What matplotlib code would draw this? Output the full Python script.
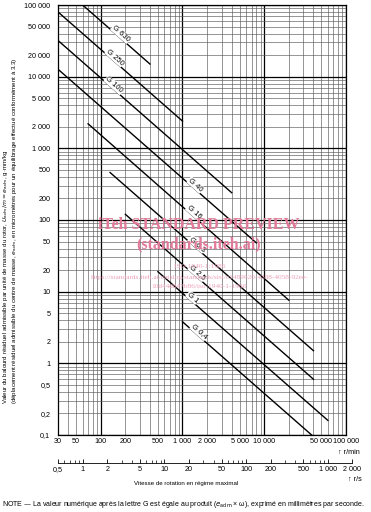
import matplotlib
matplotlib.use("Agg")
import matplotlib.pyplot as plt
import numpy as np
from matplotlib.ticker import LogLocator, NullLocator, NullFormatter

plt.rcParams["font.family"] = ["Liberation Sans", "DejaVu Sans"]

# balance quality grades, end points
grades  = ["G 630", "G 250", "G 100", "G 40", "G 16", "G 6,3", "G 2,5", "G 1", "G 0,4"]
n_start = [60, 30, 30, 30, 70, 130, 200, 500, 1000]              # r/min
n_end   = [400, 1000, 4000, 8000, 20000, 40000, 40000, 60000, 38000]
e_start = [100000, 80000, 32000, 12700, 2200, 460, 120, 19, 3.8]  # g.mm/kg
e_end   = [15000, 2400, 240, 48, 7.6, 1.5, 0.6, 0.16, 0.1]
n_label = [165, 140, 137, 1350, 1300, 1420, 1420, 1250, 1500]     # where the G label sits

x_ticks  = [30, 50, 100, 200, 500, 1000, 2000, 5000, 10000, 50000, 100000]
y_ticks  = [0.1, 0.2, 0.5, 1, 2, 5, 10, 20, 50, 100, 200, 500, 1000, 2000,
            5000, 10000, 20000, 50000, 100000]
rs_ticks = [0.5, 1, 2, 5, 10, 20, 50, 100, 200, 500, 1000, 2000]


def fr(v):
    # french style numbers: 0,5 / 1 000
    if v < 1:
        return f"{v:.1f}".replace(".", ",")
    return f"{int(v):,}".replace(",", " ")


W, H = 371, 512
def fx(px): return px / W
def fy(py): return 1 - py / H


fig = plt.figure(figsize=(W / 100, H / 100), dpi=100)
ax = fig.add_axes([fx(58), fy(435), fx(346) - fx(58), fy(5) - fy(435)])
ax.set_xscale("log")
ax.set_yscale("log")
ax.set_xlim(30, 100000)
ax.set_ylim(0.1, 100000)

# log paper grid
for k in range(1, 6):
    for m in range(1, 10):
        v = m * 10 ** k
        if 30 <= v <= 100000:
            ax.axvline(v, color="black" if m == 1 else "0.35",
                       lw=0.9 if m == 1 else 0.45, zorder=0)
for k in range(-1, 6):
    for m in range(1, 10):
        v = m * 10.0 ** k
        if 0.1 <= v <= 100000:
            ax.axhline(v, color="black" if m == 1 else "0.35",
                       lw=0.9 if m == 1 else 0.45, zorder=0)

for g, n0, n1, e0, e1, nl in zip(grades, n_start, n_end, e_start, e_end, n_label):
    ax.plot([n0, n1], [e0, e1], color="black", lw=1.0, zorder=3)
    t = (np.log10(nl) - np.log10(n0)) / (np.log10(n1) - np.log10(n0))
    el = 10 ** (np.log10(e0) + t * (np.log10(e1) - np.log10(e0)))
    p0 = ax.transData.transform((n0, e0))
    p1 = ax.transData.transform((n1, e1))
    ang = np.degrees(np.arctan2(p1[1] - p0[1], p1[0] - p0[0]))
    off = 2.5
    ax.annotate(g, (nl, el), xytext=(-off * np.sin(np.radians(ang)), off * np.cos(np.radians(ang))),
                textcoords="offset points", rotation=ang, rotation_mode="anchor",
                ha="center", va="center", fontsize=5.5, zorder=4,
                bbox=dict(fc="white", ec="none", pad=0.4))

ax.set_xticks(x_ticks, [fr(v) for v in x_ticks])
ax.set_yticks(y_ticks, [fr(v) for v in y_ticks])
ax.xaxis.set_minor_locator(NullLocator())
ax.yaxis.set_minor_locator(NullLocator())
ax.tick_params(axis="x", length=0, labelsize=5.2, pad=2.5)
ax.tick_params(axis="y", length=0, labelsize=5.2, pad=5.5)
for s in ax.spines.values():
    s.set_linewidth(0.9)

# second speed scale in r/s
ax2 = fig.add_axes([fx(58), fy(463), fx(352.5) - fx(58), 0.0001])
ax2.set_xscale("log")
ax2.set_xlim(0.5, 2000)
ax2.patch.set_visible(False)
for s in ["left", "right", "top"]:
    ax2.spines[s].set_visible(False)
ax2.spines["bottom"].set_linewidth(0.6)
ax2.set_yticks([])
ax2.set_xticks(rs_ticks, [fr(v) for v in rs_ticks])
ax2.xaxis.set_minor_locator(LogLocator(subs=np.arange(2, 10)))
ax2.xaxis.set_minor_formatter(NullFormatter())
ax2.tick_params(axis="x", which="major", direction="in", length=3, width=0.6, labelsize=5.2, pad=2)
ax2.tick_params(axis="x", which="minor", direction="in", length=2, width=0.5)

fig.text(fx(349), fy(452), "↑ r/min", ha="center", va="center", fontsize=5.2)
fig.text(fx(355), fy(479), "↑ r/s", ha="center", va="center", fontsize=5.2)
fig.text(fx(186), fy(483), "Vitesse de rotation en régime maximal",
         ha="center", va="center", fontsize=4.4)

note = fig.text(fx(2), fy(504),
                "NOTE — La valeur numérique après la lettre G est égale au produit "
                "($e_{\\mathrm{adm}}$ × ω), exprimé en millimètres par seconde.",
                ha="left", va="center", fontsize=4.5)

yl1 = fig.text(fx(6), fy(404),
               "Valeur du balourd résiduel admissible par unité de masse du rotor, "
               "$U_{\\mathrm{adm}}/m = e_{\\mathrm{adm}}$, g·mm/kg",
               rotation=90, ha="center", va="bottom", fontsize=4.0)
yl2 = fig.text(fx(15), fy(404),
               "(déplacement résiduel admissible du centre de masse, $e_{\\mathrm{adm}}$, "
               "en micromètres pour un équilibrage effectué conformément à 3.3)",
               rotation=90, ha="center", va="bottom", fontsize=4.0)

# scale the long texts to the length they have in the picture
fig.canvas.draw()
r = fig.canvas.get_renderer()
note.set_fontsize(note.get_fontsize() * 366 / note.get_window_extent(r).width)
k = 346 / yl2.get_window_extent(r).height
yl1.set_fontsize(yl1.get_fontsize() * k)
yl2.set_fontsize(yl2.get_fontsize() * k)

# preview watermark of the scanned page
wm = "#e27a9a"
wm2 = "#eaa2b7"
fig.text(fx(199), fy(225), "iTeh STANDARD PREVIEW", family="Liberation Serif",
         weight="bold", fontsize=11.5, color=wm, ha="center", va="center", zorder=10)
fig.text(fx(199), fy(244), "(standards.iteh.ai)", family="Liberation Serif",
         weight="bold", fontsize=11.5, color=wm, ha="center", va="center", zorder=10)
fig.text(fx(200), fy(267), "ISO 1940-1:1986", family="Liberation Serif",
         fontsize=5.3, color=wm2, ha="center", va="center", zorder=10)
fig.text(fx(200), fy(277),
         "https://standards.iteh.ai/catalog/standards/sist/c1489620-4388-4058-92ee-",
         family="Liberation Serif", fontsize=5.3, color=wm2, ha="center", va="center", zorder=10)
fig.text(fx(199), fy(287), "10d44d847b86/iso-1940-1-1986", family="Liberation Serif",
         fontsize=5.3, color=wm2, ha="center", va="center", zorder=10)

fig.savefig("out.png", dpi=100, facecolor="white")
